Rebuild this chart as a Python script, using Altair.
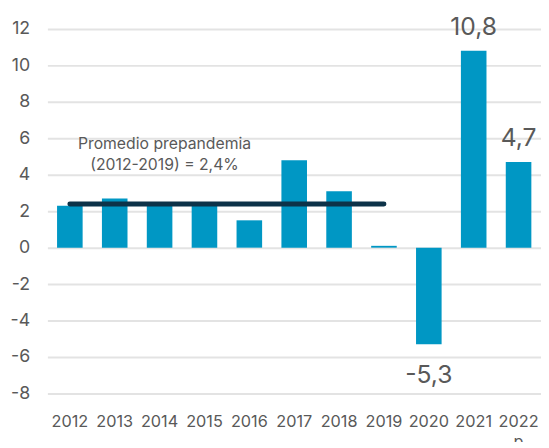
import altair as alt
import pandas as pd

years = ["2012", "2013", "2014", "2015", "2016", "2017", "2018", "2019", "2020", "2021", "2022"]
values = [2.3, 2.7, 2.4, 2.4, 1.5, 4.8, 3.1, 0.1, -5.3, 10.8, 4.7]
label_years = ["2020", "2021", "2022"]
label_texts = ["-5,3", "10,8", "4,7"]
avg_value = 2.4
avg_start, avg_end = "2012", "2019"
note_lines = ["Promedio prepandemia", "(2012-2019) = 2,4%"]

df = pd.DataFrame({"year": years, "value": values})
lab = pd.DataFrame({"year": label_years, "text": label_texts,
                    "value": [values[years.index(y)] for y in label_years]})
avg_df = pd.DataFrame({"year": [avg_start], "year2": [avg_end], "value": [avg_value]})
note_df = pd.DataFrame({"year": ["2014"], "value": [5.7], "text": [note_lines]})

FONT = "Inter"
GREY = "#595959"

xscale = alt.Scale(domain=years, paddingInner=0.43, paddingOuter=0.215)
yscale = alt.Scale(domain=[-8, 12], nice=False)

x = alt.X("year:N", scale=xscale, sort=years, title=None,
          axis=alt.Axis(labelAngle=0, labelFontSize=16.5, labelColor=GREY, labelFont=FONT,
                        domain=False, ticks=False, labelPadding=21, labelOverlap=False,
                        labelLineHeight=20,
                        labelExpr="datum.value == '2022' ? ['2022', 'p'] : datum.value"))
y = alt.Y("value:Q", scale=yscale, title=None,
          axis=alt.Axis(values=list(range(-8, 13, 2)), labelFontSize=18, labelColor=GREY,
                        labelFont=FONT, domain=False, ticks=False, labelPadding=18,
                        labelOverlap=False, labelExpr="datum.value + ''",
                        gridColor="#e3e3e3", gridWidth=2))

bars = alt.Chart(df).mark_bar(color="#0097C4").encode(x=x, y=y, y2=alt.datum(0))

avg = alt.Chart(avg_df).mark_rule(color="#0d3349", strokeWidth=5, strokeCap="round").encode(
    x=x, x2="year2:N", y=y,
)

note = alt.Chart(note_df).mark_text(fontSize=16, color=GREY, font=FONT, lineHeight=22,
                                    align="center", baseline="middle", dx=5).encode(
    x=x, y=y, text="text",
)

pos_lab = alt.Chart(lab[lab.value > 0]).mark_text(fontSize=25, color=GREY, font=FONT,
                                                   baseline="alphabetic", dy=-16).encode(
    x=x, y=y, text="text",
)
neg_lab = alt.Chart(lab[lab.value < 0]).mark_text(fontSize=25, color=GREY, font=FONT,
                                                   baseline="alphabetic", dy=39).encode(
    x=x, y=y, text="text",
)

chart = alt.layer(bars, avg, note, pos_lab, neg_lab).properties(
    width=501, height=370,
    autosize=alt.AutoSizeParams(type="none"),
    padding={"left": 40, "top": 18, "right": 0, "bottom": 46},
).configure_view(stroke=None).configure_axis(labelOverlap=False)

chart.save("out.html", embed_options={"renderer": "svg", "actions": False})
